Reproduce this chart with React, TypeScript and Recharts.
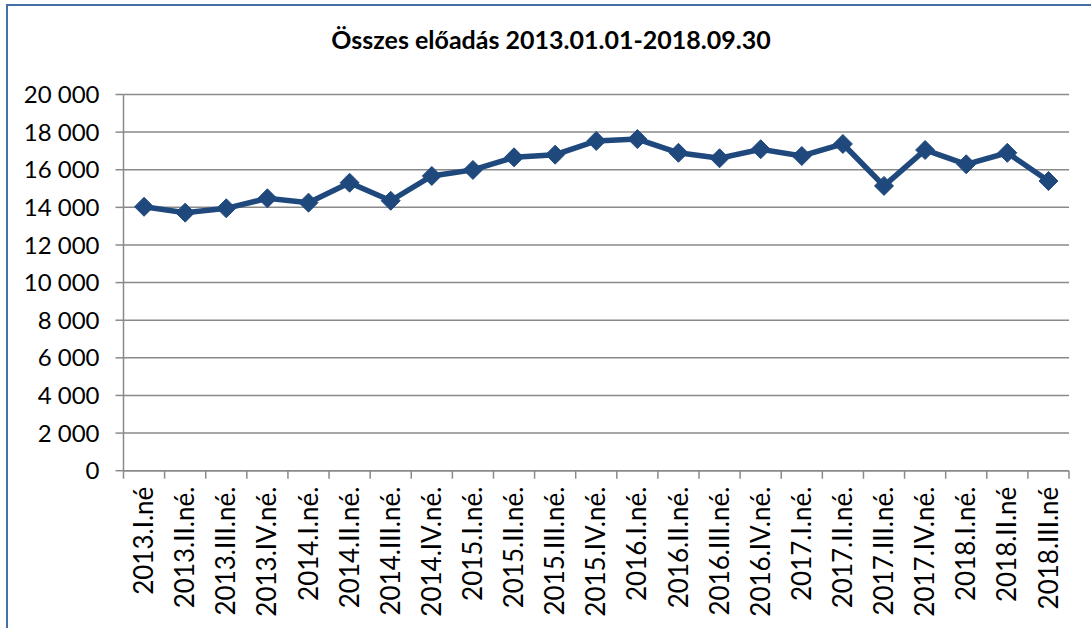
import React from "react";
import { ComposedChart, Line, XAxis, YAxis, CartesianGrid } from "recharts";

const categories = [
  "2013.I.né", "2013.II.né.", "2013.III.né.", "2013.IV.né.",
  "2014.I.né.", "2014.II.né.", "2014.III.né.", "2014.IV.né.",
  "2015.I.né.", "2015.II.né.", "2015.III.né.", "2015.IV.né.",
  "2016.I.né.", "2016.II.né.", "2016.III.né.", "2016.IV.né.",
  "2017.I.né.", "2017.II.né.", "2017.III.né.", "2017.IV.né.",
  "2018.I.né.", "2018.II.né", "2018.III.né",
];

const values = [
  14030, 13720, 13950, 14480,
  14250, 15310, 14350, 15670,
  15990, 16660, 16800, 17530,
  17630, 16900, 16610, 17090,
  16730, 17370, 15140, 17050,
  16290, 16900, 15400,
];

const yTicks = [0, 2000, 4000, 6000, 8000, 10000, 12000, 14000, 16000, 18000, 20000];

const title = "Összes előadás 2013.01.01-2018.09.30";

const data = categories.map((c, i) => ({ cat: c, pos: i + 0.5, value: values[i] }));
const xTickValues = Array.from({ length: categories.length * 2 + 1 }, (_, k) => k / 2);

const FONT = "Lato, 'Noto Sans', sans-serif";
const GRID = "#8a8a8a";
const LINE = "#1F497D";

const fmt = (v: number) => String(v).replace(/\B(?=(\d{3})+(?!\d))/g, " ");

function XTick(props: any) {
  const { x, y, payload } = props;
  const v = payload.value as number;
  if (Number.isInteger(v)) {
    return <line x1={x} x2={x} y1={y} y2={y + 8} stroke={GRID} strokeWidth={1.5} />;
  }
  const label = categories[Math.floor(v)];
  const ty = y + 16;
  return (
    <text
      x={x}
      y={ty}
      transform={`rotate(-90 ${x} ${ty})`}
      textAnchor="end"
      dy="0.35em"
      fontFamily={FONT}
      fontSize={26}
      fill="#000"
    >
      {label}
    </text>
  );
}

function Diamond(props: any) {
  const { cx, cy, index } = props;
  if (cx == null || cy == null) return <g key={index} />;
  const r = 9.5;
  return (
    <polygon
      key={index}
      points={`${cx},${cy - r} ${cx + r},${cy} ${cx},${cy + r} ${cx - r},${cy}`}
      fill={LINE}
      stroke={LINE}
      strokeWidth={1}
    />
  );
}

export default function App() {
  return (
    <div
      style={{
        position: "fixed",
        left: 0,
        top: 0,
        width: 1091,
        height: 628,
        overflow: "hidden",
        background: "#fff",
      }}
    >
      <div
        style={{
          position: "absolute",
          left: 6,
          top: 4,
          width: 1200,
          height: 800,
          borderLeft: "2px solid #4470a8",
          borderTop: "2px solid #4470a8",
        }}
      />
      <svg
        width={1091}
        height={80}
        style={{ position: "absolute", left: 0, top: 0 }}
      >
        <text
          x={551}
          y={49}
          textAnchor="middle"
          fontFamily={FONT}
          fontWeight="bold"
          fontSize={25}
          fill="#000"
        >
          {title}
        </text>
      </svg>
      <div style={{ position: "absolute", left: 0, top: 0 }}>
        <ComposedChart
          width={1091}
          height={628}
          data={data}
          margin={{ top: 94.5, right: 22, bottom: 0, left: 0 }}
        >
          <CartesianGrid vertical={false} stroke={GRID} strokeWidth={1.5} />
          <XAxis
            dataKey="pos"
            type="number"
            domain={[0, categories.length]}
            ticks={xTickValues}
            interval={0}
            allowDecimals
            height={157.3}
            tickLine={false}
            tickSize={0}
            tickMargin={0}
            axisLine={{ stroke: GRID, strokeWidth: 1.5 }}
            tick={<XTick />}
          />
          <YAxis
            width={123.5}
            domain={[0, 20000]}
            ticks={yTicks}
            interval={0}
            tickFormatter={fmt}
            tickSize={8}
            tickMargin={16}
            axisLine={{ stroke: GRID, strokeWidth: 1.5 }}
            tickLine={{ stroke: GRID, strokeWidth: 1.5 }}
            tick={{ fontFamily: FONT, fontSize: 24, fill: "#000" }}
          />
          <Line
            dataKey="value"
            stroke={LINE}
            strokeWidth={5.5}
            dot={Diamond}
            activeDot={false}
            isAnimationActive={false}
          />
        </ComposedChart>
      </div>
    </div>
  );
}
